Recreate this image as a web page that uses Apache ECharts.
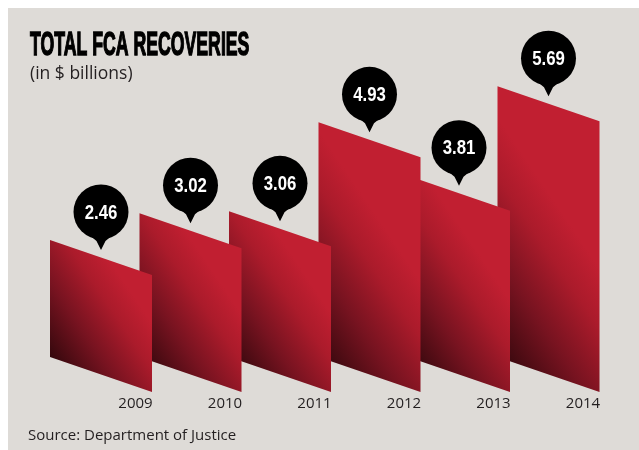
<!DOCTYPE html>
<html lang="en">
<head>
  <meta charset="UTF-8" />
  <title>Total FCA Recoveries</title>
  <script src="https://cdn.jsdelivr.net/npm/echarts@6.0.0/dist/echarts.min.js"></script>
  <style>
    html, body { margin: 0; padding: 0; background: #fff; }
  </style>
</head>
<body>
  <div id="main" style="width: 639px; height: 450px;"></div>

  <script>
    // data
    const years = ["2009", "2010", "2011", "2012", "2013", "2014"];
    const recoveries = [2.46, 3.02, 3.06, 4.93, 3.81, 5.69];

    const chart = echarts.init(document.getElementById("main"));

    const RED = "#c11f31";
    const DARK = "#35080d";
    const SLANT = 35; // left edge sits this much higher than the right edge

    function renderBar(params, api) {
      const idx = params.dataIndex;
      const top = api.coord([api.value(0), api.value(1)]);
      const base = api.coord([api.value(0), 0]);
      const right = top[0] + 16.5;
      const left = top[0] - 85.5;
      const cx = (left + right) / 2;
      const cy = top[1] - 63;

      // shadow in the lower-left corner, fading up and to the right
      const h = base[1] - top[1];
      const len = 80 + 0.2 * h;
      const x0 = left, y0 = base[1] - SLANT;
      const shade = new echarts.graphic.LinearGradient(
        x0, y0, x0 + len * 0.83, y0 - len * 0.56,
        [
          { offset: 0, color: DARK },
          { offset: 0.4, color: "#771320" },
          { offset: 0.75, color: "#ab1b2b" },
          { offset: 1, color: RED },
        ],
        true
      );

      return {
        type: "group",
        children: [
          {
            type: "polygon",
            z2: 100 - idx,
            shape: {
              points: [
                [left, top[1] - SLANT],
                [right, top[1]],
                [right, base[1]],
                [left, base[1] - SLANT],
              ],
            },
            style: { fill: shade },
          },
          {
            type: "circle",
            z2: 200,
            shape: { cx: cx, cy: cy, r: 27.5 },
            style: { fill: "#000" },
          },
          {
            type: "polygon",
            z2: 200,
            shape: {
              points: [
                [cx - 13, cy + 22],
                [cx - 4.5, cy + 29],
                [cx, cy + 38],
                [cx + 4.5, cy + 29],
                [cx + 13, cy + 22],
              ],
            },
            style: { fill: "#000" },
          },
          {
            type: "text",
            z2: 210,
            x: cx,
            y: cy + 1,
            scaleX: 0.8,
            style: {
              text: api.value(1).toFixed(2),
              fill: "#fff",
              font: "bold 21px 'Liberation Sans'",
              align: "center",
              verticalAlign: "middle",
            },
          },
        ],
      };
    }

    const option = {
      backgroundColor: "#ffffff",
      animation: false,
      grid: { left: 90.75, right: 11.25, top: 58.8, bottom: 58 },
      xAxis: {
        type: "category",
        data: years,
        axisLine: { show: false },
        axisTick: { show: false },
        axisLabel: {
          margin: 12,
          verticalAlign: "middle",
          fontFamily: "Open Sans",
          fontSize: 15,
          color: "#231f20",
        },
      },
      yAxis: {
        type: "value",
        min: 0,
        max: 7,
        show: false,
      },
      series: [
        {
          type: "custom",
          renderItem: renderBar,
          data: years.map((y, i) => [i, recoveries[i]]),
        },
      ],
      graphic: {
        elements: [
          {
            type: "rect",
            z: -10,
            shape: { x: 8, y: 8, width: 631, height: 442 },
            style: { fill: "#dedbd7" },
          },
          {
            type: "text",
            x: 30,
            y: 45.5,
            scaleX: 0.52,
            style: {
              text: "TOTAL FCA RECOVERIES",
              font: "bold 34px 'Liberation Sans'",
              fill: "#000",
              stroke: "#000",
              lineWidth: 1.5,
              verticalAlign: "middle",
            },
          },
          {
            type: "text",
            x: 30,
            y: 74.5,
            style: {
              text: "(in $ billions)",
              font: "17.5px 'Open Sans'",
              fill: "#231f20",
              verticalAlign: "middle",
            },
          },
          {
            type: "text",
            x: 28,
            y: 436,
            style: {
              text: "Source: Department of Justice",
              font: "15px 'Open Sans'",
              fill: "#231f20",
              verticalAlign: "middle",
            },
          },
        ],
      },
    };

    chart.setOption(option);
  </script>
</body>
</html>
